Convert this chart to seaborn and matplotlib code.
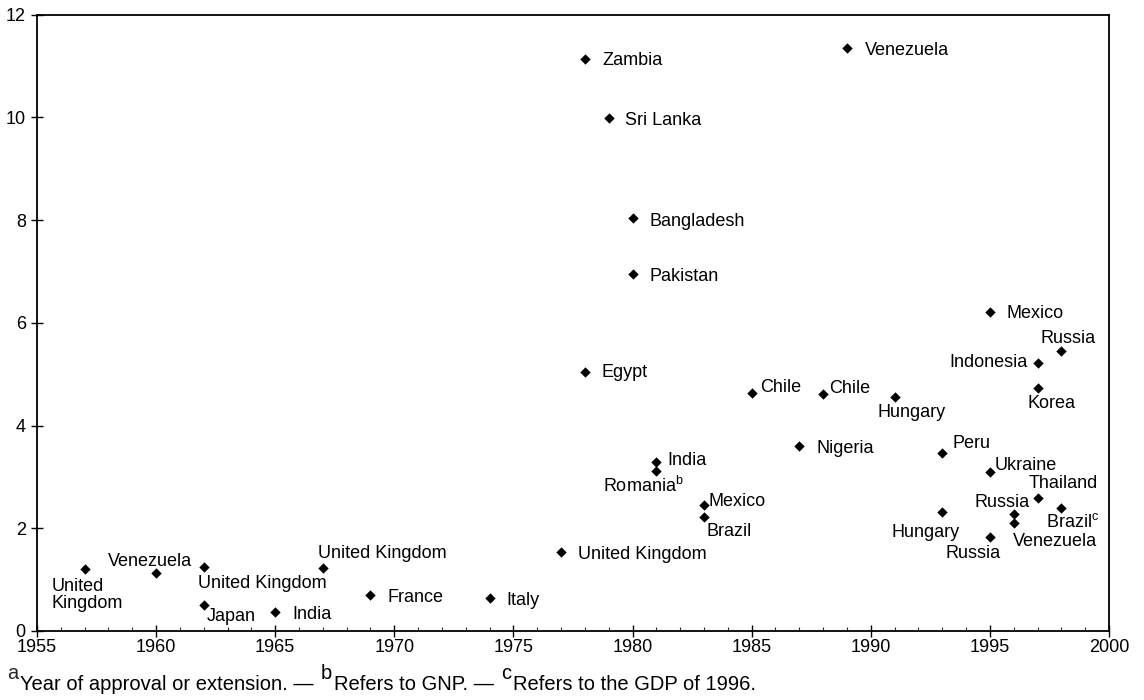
import matplotlib
matplotlib.use("Agg")
import matplotlib.pyplot as plt
from matplotlib.ticker import MultipleLocator
import seaborn as sns

# data
labels = [
    "United\nKingdom", "Venezuela", "United Kingdom", "Japan", "India",
    "United Kingdom", "France", "Italy", "United Kingdom", "Egypt",
    "Zambia", "Sri Lanka", "Bangladesh", "Pakistan", "India",
    r"Romania$^{\rm b}$", "Mexico", "Brazil", "Chile", "Nigeria",
    "Chile", "Venezuela", "Hungary", "Peru", "Hungary",
    "Mexico", "Ukraine", "Russia", "Russia", "Venezuela",
    "Indonesia", "Korea", "Thailand", "Russia", r"Brazil$^{\rm c}$",
]
years = [
    1957, 1960, 1962, 1962, 1965,
    1967, 1969, 1974, 1977, 1978,
    1978, 1979, 1980, 1980, 1981,
    1981, 1983, 1983, 1985, 1987,
    1988, 1989, 1991, 1993, 1993,
    1995, 1995, 1995, 1996, 1996,
    1997, 1997, 1997, 1998, 1998,
]
values = [
    1.20, 1.12, 1.25, 0.51, 0.36,
    1.23, 0.70, 0.64, 1.54, 5.04,
    11.13, 9.98, 8.05, 6.95, 3.29,
    3.12, 2.45, 2.22, 4.63, 3.60,
    4.61, 11.36, 4.55, 3.46, 2.32,
    6.21, 3.09, 1.83, 2.28, 2.10,
    5.21, 4.73, 2.59, 5.45, 2.40,
]
# footnote: (text, is_superscript)
footnote = [
    ("a", True), ("Year of approval or extension. —", False),
    ("b", True), ("Refers to GNP. —", False),
    ("c", True), ("Refers to the GDP of 1996.", False),
]

# label placement (pixel offsets from the marker, horizontal alignment)
label_pos = [
    (-33, -9, "left"), (-6, 7, "center"), (-6, -21, "left"), (3, -16, "left"), (17, -7, "left"),
    (-5, 10, "left"), (17, -7, "left"), (17, -7, "left"), (17, -7, "left"), (17, -5, "left"),
    (17, -6, "left"), (16, -7, "left"), (17, -8, "left"), (17, -7, "left"), (11, -3, "left"),
    (27, -21, "right"), (5, -1, "left"), (3, -19, "left"), (8, 1, "left"), (17, -7, "left"),
    (6, 1, "left"), (18, -7, "left"), (17, -20, "center"), (10, 5, "left"), (-17, -25, "center"),
    (17, -6, "left"), (5, 2, "left"), (-17, -21, "center"), (16, 7, "right"), (-1, -23, "left"),
    (-10, -4, "right"), (-10, -20, "left"), (-9, 10, "left"), (7, 8, "center"), (-15, -19, "left"),
]

sns.set_theme(style="ticks")
plt.rcParams["font.family"] = ["Liberation Sans", "DejaVu Sans"]
plt.rcParams["mathtext.fontset"] = "custom"
plt.rcParams["mathtext.rm"] = "Liberation Sans"
plt.rcParams["mathtext.it"] = "Liberation Sans:italic"
plt.rcParams["mathtext.bf"] = "Liberation Sans:bold"

fig = plt.figure(figsize=(11.44, 7), dpi=100)
ax = fig.add_axes([0.0323, 0.0986, 0.9371, 0.8804])

sns.scatterplot(x=years, y=values, marker="D", s=28, color="black",
                linewidth=0, ax=ax)

for lab, x, y, (dx, dy, ha) in zip(labels, years, values, label_pos):
    va = "top" if "\n" in lab else "baseline"
    ax.annotate(lab, (x, y), xytext=(dx, dy), textcoords="offset pixels",
                ha=ha, va=va, fontsize=13, color="black", linespacing=1.0)

ax.set_xlim(1955, 2000)
ax.set_ylim(0, 12)
ax.set_xticks(range(1955, 2001, 5))
ax.set_yticks(range(0, 13, 2))
ax.xaxis.set_minor_locator(MultipleLocator(1))
ax.tick_params(axis="both", which="major", direction="inout", length=8,
               width=1, labelsize=13, colors="black", pad=2)
ax.tick_params(axis="y", which="major", pad=4)
ax.tick_params(axis="x", which="minor", direction="in", length=3, width=0.8,
               bottom=True)
for sp in ax.spines.values():
    sp.set_visible(True)
    sp.set_linewidth(1.3)
    sp.set_color("black")
ax.set_xlabel("")
ax.set_ylabel("")

# footnote built from pieces so the superscript letters stay full size
prev = fig.text(0.006, 1 - 679 / 700, footnote[0][0], fontsize=14.5,
                ha="left", va="baseline")
for txt, sup in footnote[1:]:
    if sup:
        dx, dy = 7, 11
    else:
        dx, dy = 2, -11
    prev = ax.annotate(txt, xy=(1, 0), xycoords=prev, xytext=(dx, dy),
                       textcoords="offset pixels", ha="left", va="bottom",
                       fontsize=14.5, color="black", annotation_clip=False)

fig.savefig("out.png", dpi=100)
plt.close(fig)
